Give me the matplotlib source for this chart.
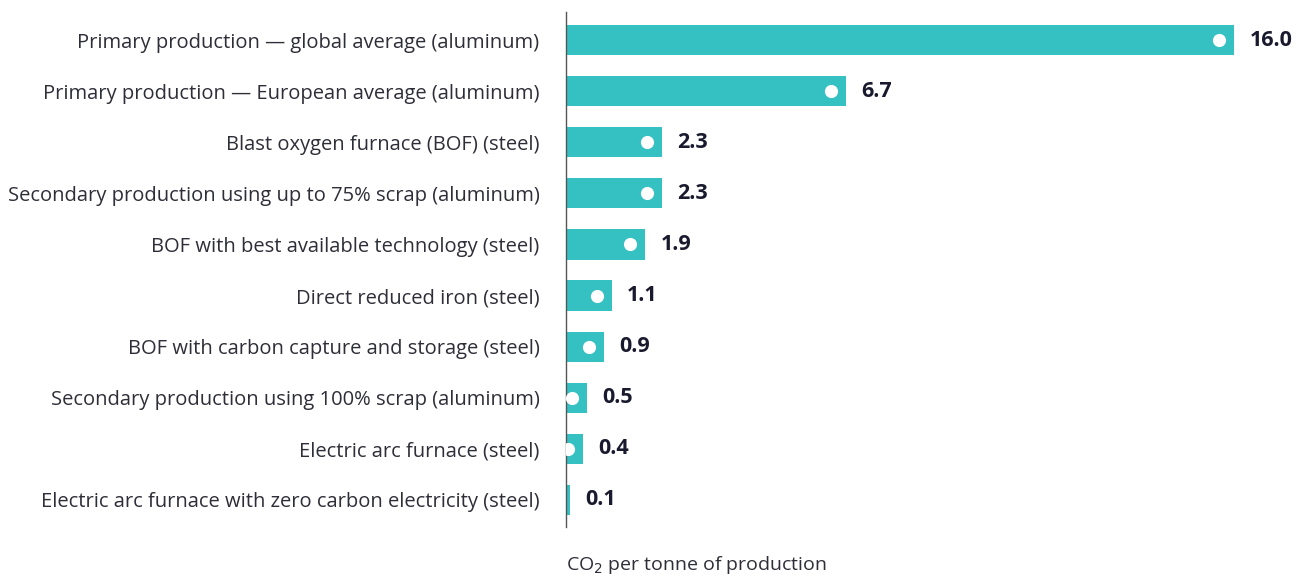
import matplotlib
matplotlib.use("Agg")
import matplotlib.pyplot as plt

plt.rcParams["font.family"] = ["Open Sans", "DejaVu Sans"]

categories = [
    "Primary production \u2014 global average (aluminum)",
    "Primary production \u2014 European average (aluminum)",
    "Blast oxygen furnace (BOF) (steel)",
    "Secondary production using up to 75% scrap (aluminum)",
    "BOF with best available technology (steel)",
    "Direct reduced iron (steel)",
    "BOF with carbon capture and storage (steel)",
    "Secondary production using 100% scrap (aluminum)",
    "Electric arc furnace (steel)",
    "Electric arc furnace with zero carbon electricity (steel)",
]
values = [16.0, 6.7, 2.3, 2.3, 1.9, 1.1, 0.9, 0.5, 0.4, 0.1]

bar_color = "#35C0C2"
label_color = "#2E2E38"
value_color = "#1A1A2E"

W, H = 1297, 577
fig = plt.figure(figsize=(W / 100, H / 100), dpi=100)
ax = fig.add_axes([566 / W, 1 - 527 / H, (W - 566) / W, 515 / H])

y = list(range(len(values)))
ax.barh(y, values, height=0.59, color=bar_color, zorder=2)
# white marker dot near the end of each bar, clipped at the axis
ax.scatter([v - 0.36 for v in values], y, s=90, color="white", zorder=3,
           clip_on=True, linewidths=0)

for yi, v in zip(y, values):
    ax.annotate("{:.1f}".format(v), (v, yi), xytext=(11, 0), textcoords="offset points",
                va="center", ha="left", fontsize=15.5, fontweight="bold", color=value_color)

ax.set_xlim(0, 17.5)
ax.set_ylim(9.53, -0.55)
ax.set_yticks(y)
ax.set_yticklabels(categories, fontsize=14.5, color=label_color)
ax.tick_params(axis="y", length=0, pad=19)
ax.set_xticks([])
for side in ["top", "right", "bottom"]:
    ax.spines[side].set_visible(False)
ax.spines["left"].set_color("#555555")
ax.spines["left"].set_linewidth(1.0)
ax.patch.set_alpha(0)

fig.text(566 / W, 1 - 565 / H, "CO$_2$ per tonne of production", fontsize=14,
         color=label_color, ha="left", va="center")

fig.savefig("out.png", dpi=100)
